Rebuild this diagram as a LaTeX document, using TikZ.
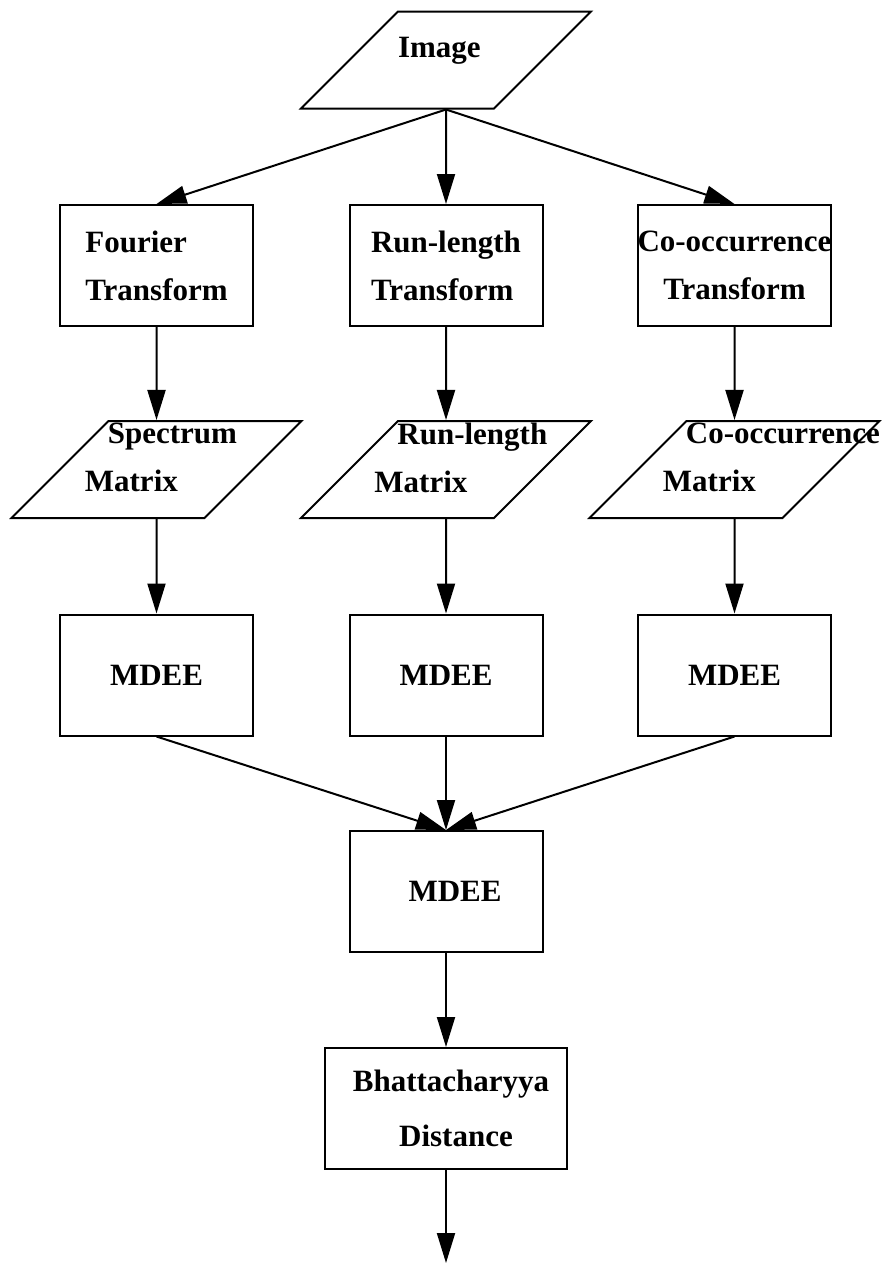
\documentclass[tikz,border=0pt]{standalone}
\usepackage{fontspec}
\setmainfont{Liberation Serif}
\usepackage{tikz}
\usetikzlibrary{arrows.meta,shapes.geometric,calc}

\tikzset{
  procbox/.style={draw, line width=1pt, rectangle, inner sep=0pt,
    minimum width=96.5pt, minimum height=60.5pt},
  databox/.style={draw, line width=1pt, trapezium, trapezium left angle=45,
    trapezium right angle=135, inner sep=0pt, align=left,
    text width=48pt, text height=23pt, text depth=25.5pt},
  datatext/.style={anchor=north west, inner sep=0pt, align=left},
  flow/.style={line width=1pt, -{Triangle[length=15pt,width=9pt]}},
}

\begin{document}
\begin{tikzpicture}[x=0.5pt, y=-0.5pt, font=\fontsize{15.5}{24}\selectfont\bfseries]
\useasboundingbox (0,0) rectangle (895,1264);

% Input
\node[databox] (img) at (446,60) {Image};

% Transforms
\node[procbox, align=left] (four) at (156.5,265.5) {Fourier\\Transform};
\node[procbox, align=left] (runl) at (446,265.5) {Run-length\\Transform};
\node[procbox, align=center] (cooc) at (734.5,265.5) {Co-occurrence\\Transform};

% Matrices
\node[databox] (spec) at (156.5,469.5) {};
\node[databox] (rlm) at (446,469.5) {};
\node[databox] (com) at (734.5,469.5) {};
\node[datatext] (spec-t) at ($(spec.north)+(-72,3)$) {\hspace*{11.5pt}Spectrum\\Matrix};
\node[datatext] (rlm-t) at ($(rlm.north)+(-72,3)$) {\hspace*{11.5pt}Run-length\\Matrix};
\node[datatext] (com-t) at ($(com.north)+(-72,3)$) {\hspace*{11.5pt}Co-occurrence\\Matrix};

% MDEE
\node[procbox] (mdee1) at (156.5,675) {MDEE};
\node[procbox] (mdee2) at (446,675) {MDEE};
\node[procbox] (mdee3) at (734.5,675) {MDEE};
\node[procbox] (mdee) at (446,891.5) {\hspace*{9pt}MDEE};

% Distance
\node[procbox, minimum width=121pt, align=center,
  font=\fontsize{15.5}{27.5}\selectfont\bfseries] (bhat) at (446,1108.5)
  {\hspace*{5pt}Bhattacharyya\\\hspace*{10pt}Distance};
\coordinate (out) at (446,1263);

% Arrows
\foreach \t in {four,runl,cooc}
  \draw[flow] (img.south) -- (\t.north);
\foreach \a/\b in {four/spec,runl/rlm,cooc/com,spec/mdee1,rlm/mdee2,com/mdee3,mdee/bhat}
  \draw[flow] (\a.south) -- (\b.north);
\foreach \a in {mdee1,mdee2,mdee3}
  \draw[flow] (\a.south) -- (mdee.north);
\draw[flow] (bhat.south) -- (out);

\end{tikzpicture}
\end{document}
